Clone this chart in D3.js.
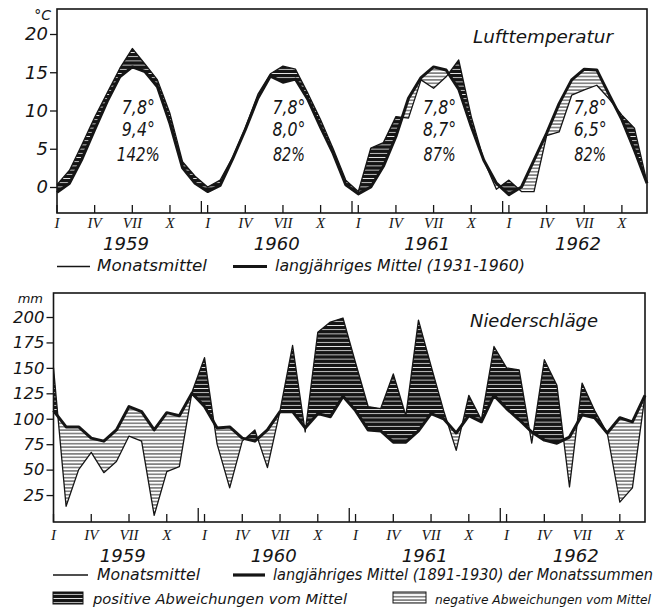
<!DOCTYPE html>
<html>
<head>
<meta charset="utf-8">
<script src="https://cdn.jsdelivr.net/npm/d3@7"></script>
<style>
  body { margin: 0; background: #fff; }
  text { font-family: "DejaVu Sans", sans-serif; font-style: italic; fill: #151515; }
  .roman { font-family: "Liberation Serif", serif; }
</style>
</head>
<body>
<svg id="chart" width="665" height="612"></svg>
<script>
// Lufttemperatur: Monatsmittel (°C)
var temp1959 = [0.3, 2.2, 5.6, 9.1, 12.3, 15.5, 18.1, 16.1, 14.0, 9.6, 3.3, 1.4]
var temp1960 = [0.0, 0.9, 3.9, 7.7, 12.1, 14.8, 15.8, 15.4, 12.2, 8.8, 5.0, 0.9]
var temp1961 = [-0.6, 5.1, 5.8, 9.2, 9.0, 14.0, 12.9, 14.4, 16.6, 9.2, 3.5, -0.3]
var temp1962 = [0.9, -0.6, -0.6, 6.7, 7.2, 12.0, 12.7, 13.3, 11.5, 9.4, 7.7, 0.6]
// langjähriges Mittel 1931-1960, as drawn in each year
var tempMittel1959 = [-0.7, 0.5, 3.7, 7.5, 11.2, 14.4, 15.7, 15.1, 13.1, 8.3, 2.5, 0.5]
var tempMittel1960 = [-0.6, 0.2, 3.7, 7.5, 11.6, 14.5, 13.7, 14.1, 11.4, 7.8, 4.4, 0.3]
var tempMittel1961 = [-0.9, 0.0, 2.7, 6.6, 11.6, 14.3, 15.7, 15.3, 12.8, 7.9, 3.5, 0.5]
var tempMittel1962 = [-1.0, 0.0, 3.5, 7.0, 10.9, 14.0, 15.4, 15.3, 12.0, 8.8, 4.8, 0.5]

// Niederschläge: Monatssummen (mm)
var nied1959 = [150, 14, 50, 67, 47, 58, 83, 78, 5, 48, 53, 126]
var nied1960 = [160, 75, 32, 78, 89, 52, 108, 172, 87, 185, 195, 199]
var nied1961 = [155, 112, 110, 144, 103, 197, 152, 108, 69, 123, 99, 171]
var nied1962 = [150, 148, 76, 158, 133, 33, 135, 108, 86, 18, 32, 123]
// langjähriges Mittel 1891-1930 der Monatssummen, as drawn in each year
var niedMittel1959 = [108, 92, 92, 81, 78, 89, 112, 107, 89, 106, 103, 125]
var niedMittel1960 = [112, 91, 92, 81, 78, 89, 107, 107, 91, 105, 102, 122]
var niedMittel1961 = [108, 89, 88, 77, 77, 88, 105, 100, 86, 103, 97, 123]
var niedMittel1962 = [110, 99, 87, 79, 76, 82, 104, 101, 86, 101, 97, 123]

var years = ["1959", "1960", "1961", "1962"]
var romanMonths = [0, 3, 6, 9]
var romanLabels = ["I", "IV", "VII", "X"]
var tempTicks = [0, 5, 10, 15, 20]
var niedTicks = [25, 50, 75, 100, 125, 150, 175, 200]
var mittelText = ["7,8°", "7,8°", "7,8°", "7,8°"]
var jahrText = ["9,4°", "8,0°", "8,7°", "6,5°"]
var prozentText = ["142%", "82%", "87%", "82%"]

var svg = d3.select("#chart")
var defs = svg.append("defs")

// positive: black with white lines, negative: white with black lines
var pos = defs.append("pattern")
  .attr("id", "posHatch")
  .attr("patternUnits", "userSpaceOnUse")
  .attr("width", 10).attr("height", 4.2)
pos.append("rect").attr("width", 10).attr("height", 4.2).attr("fill", "#151515")
pos.append("line")
  .attr("x1", 0).attr("x2", 10).attr("y1", 2.1).attr("y2", 2.1)
  .attr("stroke", "#fff").attr("stroke-width", 0.8)

var neg = defs.append("pattern")
  .attr("id", "negHatch")
  .attr("patternUnits", "userSpaceOnUse")
  .attr("width", 10).attr("height", 3.4)
neg.append("rect").attr("width", 10).attr("height", 3.4).attr("fill", "#fff")
neg.append("line")
  .attr("x1", 0).attr("x2", 10).attr("y1", 1.7).attr("y2", 1.7)
  .attr("stroke", "#151515").attr("stroke-width", 0.9)

function txt(g, x, y, s, size, anchor, len) {
  var t = g.append("text")
    .attr("x", x).attr("y", y)
    .attr("font-size", size)
    .attr("text-anchor", anchor || "start")
    .text(s)
  if (len) t.attr("textLength", len).attr("lengthAdjust", "spacingAndGlyphs")
  return t
}

function drawPanel(p) {
  var x = d3.scaleLinear().domain([0, 47]).range([p.left, p.right])
  var y = d3.scaleLinear().domain(p.yDomain).range(p.yRange)
  var idx = d3.range(p.thin.length)
  var g = svg.append("g")

  var aboveMean = d3.area().x(i => x(i)).y0(p.top).y1(i => y(p.mean[i]))
  var belowMean = d3.area().x(i => x(i)).y0(i => y(p.mean[i])).y1(p.bottom)
  var between = d3.area().x(i => x(i)).y0(i => y(p.mean[i])).y1(i => y(p.thin[i]))

  defs.append("clipPath").attr("id", p.id + "Above")
    .append("path").attr("d", aboveMean(idx))
  defs.append("clipPath").attr("id", p.id + "Below")
    .append("path").attr("d", belowMean(idx))

  g.append("path")
    .attr("d", between(idx))
    .attr("fill", "url(#posHatch)")
    .attr("clip-path", "url(#" + p.id + "Above)")
  g.append("path")
    .attr("d", between(idx))
    .attr("fill", "url(#negHatch)")
    .attr("clip-path", "url(#" + p.id + "Below)")

  var thinLine = d3.line().x(i => x(i)).y(i => y(p.thin[i]))
  var meanLine = d3.line().x(i => x(i)).y(i => y(p.mean[i]))
  g.append("path")
    .attr("d", thinLine(idx))
    .attr("fill", "none").attr("stroke", "#151515")
    .attr("stroke-width", 1.3).attr("stroke-linejoin", "round")
  g.append("path")
    .attr("d", meanLine(idx))
    .attr("fill", "none").attr("stroke", "#151515")
    .attr("stroke-width", 3).attr("stroke-linejoin", "round")

  // frame
  g.append("rect")
    .attr("x", p.left).attr("y", p.top)
    .attr("width", p.right - p.left).attr("height", p.bottom - p.top)
    .attr("fill", "none").attr("stroke", "#151515").attr("stroke-width", 1.6)

  // y axis
  var ax = g.append("g")
    .attr("transform", "translate(" + p.left + ",0)")
    .call(d3.axisLeft(y).tickValues(p.yTicks).tickSize(7).tickPadding(2))
  ax.select(".domain").remove()
  ax.selectAll("line").attr("stroke", "#151515").attr("stroke-width", 1.3)
  ax.selectAll("text").attr("font-size", p.labelSize).attr("fill", "#151515")
  txt(g, p.unitX, p.unitY, p.unit, p.unitSize, "end")

  // month ticks, year separators, roman numerals, years
  years.forEach(function(yr, k) {
    romanMonths.forEach(function(m, j) {
      var xm = x(k * 12 + m)
      g.append("line")
        .attr("x1", xm).attr("x2", xm)
        .attr("y1", p.bottom).attr("y2", p.bottom - 8)
        .attr("stroke", "#151515").attr("stroke-width", 1.3)
      txt(g, xm, p.romanY, romanLabels[j], 15, "middle").attr("class", "roman")
    })
    if (k > 0) {
      var xs = x(k * 12 - 0.5)
      g.append("line")
        .attr("x1", xs).attr("x2", xs)
        .attr("y1", p.bottom).attr("y2", p.bottom - p.sepLen)
        .attr("stroke", "#151515").attr("stroke-width", 1.3)
    }
    txt(g, x(k * 12 + 5.5), p.yearY, yr, 18, "middle", 46)
  })

  return { x: x, y: y, g: g }
}

var tempPanel = drawPanel({
  id: "temp", left: 57, right: 647, top: 9, bottom: 213,
  yDomain: [0, 20], yRange: [187, 34],
  thin: temp1959.concat(temp1960, temp1961, temp1962),
  mean: tempMittel1959.concat(tempMittel1960, tempMittel1961, tempMittel1962),
  yTicks: tempTicks, labelSize: 18,
  unit: "°C", unitX: 51, unitY: 20, unitSize: 14,
  sepLen: 12, romanY: 228, yearY: 250
})

var niedPanel = drawPanel({
  id: "nied", left: 53.5, right: 645, top: 293, bottom: 522,
  yDomain: [0, 200], yRange: [520.5, 317],
  thin: nied1959.concat(nied1960, nied1961, nied1962),
  mean: niedMittel1959.concat(niedMittel1960, niedMittel1961, niedMittel1962),
  yTicks: niedTicks, labelSize: 16.5,
  unit: "mm", unitX: 43, unitY: 303, unitSize: 13,
  sepLen: 14, romanY: 540, yearY: 562
})

// titles
txt(svg, 473, 43, "Lufttemperatur", 17, "start", 140)
txt(svg, 470, 327, "Niederschläge", 17, "start", 128)

// annual values inside the temperature panel
years.forEach(function(yr, k) {
  var cx = tempPanel.x(k * 12 + 6) + 6
  txt(svg, cx, 113.5, mittelText[k], 19, "middle", 33)
  txt(svg, cx, 135.5, jahrText[k], 19, "middle", 33)
  txt(svg, cx, 160.5, prozentText[k], 19, "middle", prozentText[k].length > 3 ? 43 : 32)
})

// legends
function legendLine(x1, x2, yy, w) {
  svg.append("line")
    .attr("x1", x1).attr("x2", x2).attr("y1", yy).attr("y2", yy)
    .attr("stroke", "#151515").attr("stroke-width", w)
}
legendLine(57, 90, 266.5, 1.3)
txt(svg, 97, 271, "Monatsmittel", 15, "start", 110)
legendLine(233, 267, 266.5, 3.2)
txt(svg, 275, 271, "langjähriges Mittel (1931-1960)", 15, "start", 250)

legendLine(53, 88, 575, 1.3)
txt(svg, 97, 580, "Monatsmittel", 15, "start", 103)
legendLine(233, 265, 575, 3.2)
txt(svg, 273, 580, "langjähriges Mittel (1891-1930) der Monatssummen", 15, "start", 380)

svg.append("rect")
  .attr("x", 53).attr("y", 592).attr("width", 30).attr("height", 12)
  .attr("fill", "url(#posHatch)").attr("stroke", "#151515").attr("stroke-width", 1)
txt(svg, 93, 604, "positive Abweichungen vom Mittel", 14, "start", 254)
svg.append("rect")
  .attr("x", 393).attr("y", 592).attr("width", 33).attr("height", 11)
  .attr("fill", "url(#negHatch)").attr("stroke", "#151515").attr("stroke-width", 1)
txt(svg, 435, 604, "negative Abweichungen vom Mittel", 12, "start", 216)
</script>
</body>
</html>
